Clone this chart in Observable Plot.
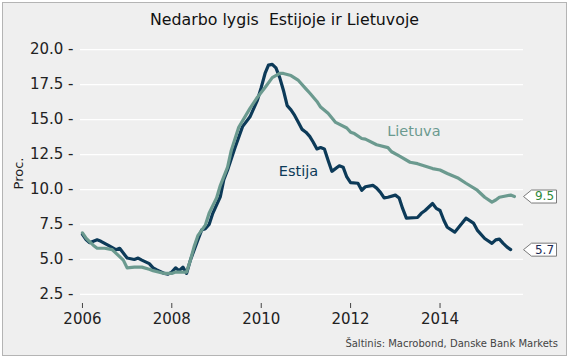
<!DOCTYPE html>
<html>
<head>
<meta charset="utf-8">
<script src="https://cdn.jsdelivr.net/npm/d3@7"></script>
<script src="https://cdn.jsdelivr.net/npm/@observablehq/plot@0.6"></script>
<style>
  html, body { margin: 0; padding: 0; background: #ffffff; }
  #frame { position: absolute; left: 2px; top: 2px; width: 563px; height: 352px;
           border: 1px solid #b4b4b4; background: #efefef; overflow: hidden; }
  #title { position: absolute; left: 0; top: 7px; width: 563px; text-align: center;
           font-family: "DejaVu Sans", sans-serif; font-size: 15.8px; color: #111; }
  #chart { position: absolute; left: -6px; top: 27px; width: 569px; height: 300px; }
  #chart svg { max-width: none; }
  #ylabel { position: absolute; left: -2px; top: 163px; width: 34px; text-align: center;
            transform: rotate(-90deg); font-family: "DejaVu Sans", sans-serif; font-size: 13px; color: #222; }
  #caption { position: absolute; right: 8px; top: 335px; font-family: "DejaVu Sans", sans-serif;
             font-size: 10px; color: #444; }
</style>
</head>
<body>
<div id="frame">
  <div id="title">Nedarbo lygis&nbsp; Estijoje ir Lietuvoje</div>
  <div id="chart"></div>
  <div id="ylabel">Proc.</div>
  <div id="caption">Šaltinis: Macrobond, Danske Bank Markets</div>
</div>
<script>
// Estija (Estonia) unemployment, %
const estDates = ["2006-01","2006-02","2006-03","2006-05","2006-06","2006-08","2006-10","2006-11",
  "2007-01","2007-03","2007-04","2007-05","2007-07","2007-08","2007-09","2007-11","2007-12",
  "2008-01","2008-02","2008-03","2008-04","2008-05","2008-06","2008-08","2008-09","2008-10","2008-11","2008-12",
  "2009-02","2009-03","2009-04","2009-06","2009-08","2009-10","2009-12",
  "2010-01","2010-02","2010-03","2010-04","2010-05","2010-06","2010-07","2010-08","2010-09","2010-10","2010-11","2010-12",
  "2011-01","2011-02","2011-03","2011-04","2011-05","2011-06","2011-07","2011-08","2011-10","2011-11","2011-12",
  "2012-01","2012-03","2012-04","2012-05","2012-07","2012-08","2012-09","2012-10","2012-11",
  "2013-01","2013-02","2013-03","2013-04","2013-07","2013-08","2013-09","2013-11","2013-12",
  "2014-01","2014-02","2014-03","2014-05","2014-07","2014-08","2014-10","2014-11",
  "2015-01","2015-03","2015-04","2015-05","2015-06","2015-07","2015-08"];
const estValues = [6.8,6.4,6.2,6.4,6.3,6.0,5.7,5.8,
  5.1,5.0,5.1,4.95,4.7,4.4,4.25,4.0,3.95,
  4.1,4.4,4.2,4.45,4.0,4.95,6.4,7.1,7.2,7.5,8.3,
  9.5,10.7,11.4,13.0,14.5,15.2,16.4,
  17.3,18.3,18.9,18.95,18.7,18.0,17.1,16.0,15.7,15.3,14.8,14.3,
  14.1,13.8,13.4,12.9,13.0,12.9,12.1,11.3,11.7,11.6,10.9,
  10.5,10.45,9.95,10.2,10.3,10.1,9.8,9.4,9.45,
  9.6,9.4,8.65,7.95,8.0,8.3,8.5,9.0,8.65,
  8.5,7.8,7.3,6.95,7.6,7.95,7.6,7.1,
  6.5,6.15,6.4,6.45,6.15,5.9,5.7];

// Lietuva (Lithuania) unemployment, %
const ltDates = ["2006-01","2006-02","2006-04","2006-05","2006-07","2006-09","2006-10","2006-12",
  "2007-01","2007-03","2007-05","2007-07","2007-08","2007-11",
  "2008-01","2008-02","2008-03","2008-05","2008-06","2008-07","2008-08","2008-10","2008-11",
  "2009-01","2009-02","2009-04","2009-05","2009-07","2009-10","2009-12",
  "2010-02","2010-04","2010-06","2010-07","2010-09","2010-11",
  "2011-01","2011-02","2011-04","2011-05","2011-07","2011-09","2011-12",
  "2012-01","2012-02","2012-04","2012-05","2012-08","2012-11","2012-12",
  "2013-02","2013-05","2013-07","2013-11",
  "2014-01","2014-03","2014-06","2014-08","2014-11",
  "2015-01","2015-03","2015-04","2015-05","2015-06","2015-08","2015-09"];
const ltValues = [6.9,6.5,6.0,5.8,5.8,5.7,5.45,4.95,
  4.4,4.45,4.45,4.3,4.2,4.0,
  4.0,4.1,4.1,4.1,4.95,5.9,6.7,7.45,8.3,
  9.4,10.3,11.6,12.8,14.45,15.8,16.6,
  17.3,18.0,18.3,18.3,18.15,17.8,
  17.2,16.9,16.3,15.9,15.45,14.8,14.4,
  14.1,14.0,13.65,13.6,13.2,13.0,12.7,
  12.4,11.95,11.85,11.5,
  11.4,11.15,10.8,10.45,9.95,
  9.45,9.1,9.25,9.45,9.5,9.6,9.5];

const seriesNames = ["Estija", "Lietuva"];
const seriesColors = ["#0c3a58", "#6b9a8f"];
const labelDates = ["2010-11", "2013-06"];
const labelValues = [11.3, 14.15];
const endTextColors = ["#1d2a55", "#2f8a3a"];
const yTicks = [2.5, 5.0, 7.5, 10.0, 12.5, 15.0, 17.5, 20.0];
const xTickYears = [2006, 2008, 2010, 2012, 2014];

const parse = d3.utcParse("%Y-%m");
const est = estDates.map((d, i) => ({date: parse(d), value: estValues[i], series: "Estija"}));
const lt = ltDates.map((d, i) => ({date: parse(d), value: ltValues[i], series: "Lietuva"}));
const labels = seriesNames.map((s, i) => ({name: s, date: parse(labelDates[i]), value: labelValues[i], color: seriesColors[i]}));
const ends = [est[est.length - 1], lt[lt.length - 1]].map((d, i) => ({value: d.value, text: d.value.toFixed(1), color: endTextColors[i]}));

const boxSymbol = {
  draw(ctx) {
    ctx.moveTo(0, 0);
    ctx.lineTo(8, -6.5);
    ctx.lineTo(33, -6.5);
    ctx.lineTo(33, 6.5);
    ctx.lineTo(8, 6.5);
    ctx.closePath();
  }
};

const chart = Plot.plot({
  width: 569,
  height: 300,
  marginLeft: 83,
  marginRight: 43,
  marginTop: 8,
  marginBottom: 27,
  style: {fontFamily: "DejaVu Sans, sans-serif", fontSize: "15px", background: "transparent", color: "#222", overflow: "visible"},
  x: {type: "utc", domain: [new Date(Date.UTC(2005, 11, 16)), new Date(Date.UTC(2015, 10, 14))]},
  y: {domain: [1.85, 20.8]},
  marks: [
    Plot.gridY(yTicks, {stroke: "#ffffff", strokeOpacity: 1, strokeWidth: 1.3}),
    Plot.axisY(yTicks, {tickSize: 0, tickPadding: 7, tickFormat: d => d.toFixed(1) + " -", label: null, fontSize: 15}),
    Plot.axisX(xTickYears.map(y => new Date(Date.UTC(y, 0, 1))), {tickSize: 5, tickPadding: 5, tickFormat: d => String(d.getUTCFullYear()), label: null, stroke: "#444", fontSize: 15}),
    Plot.line(est, {x: "date", y: "value", stroke: seriesColors[0], strokeWidth: 3.2, strokeLinejoin: "round"}),
    Plot.line(lt, {x: "date", y: "value", stroke: seriesColors[1], strokeWidth: 3.2, strokeLinejoin: "round"}),
    Plot.text(labels, {x: "date", y: "value", text: "name", fill: "color", fontSize: 14.5}),
    Plot.dot(ends, {y: "value", frameAnchor: "right", symbol: boxSymbol, r: 5, fill: "#ffffff", stroke: "#7a7a7a", strokeWidth: 1}),
    Plot.text(ends, {y: "value", frameAnchor: "right", textAnchor: "middle", dx: 21, text: "text", fill: "color", fontSize: 12})
  ]
});
document.getElementById("chart").appendChild(chart);
</script>
</body>
</html>
